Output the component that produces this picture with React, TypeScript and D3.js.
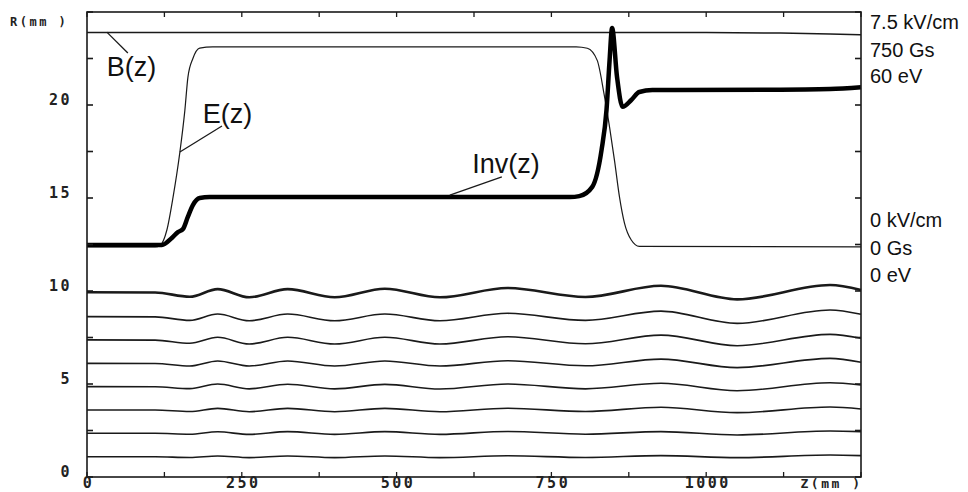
import * as d3 from "d3";

// z positions (mm) and field / invariant profiles in plot units (R scale)
const zB = [0, 1000, 1120, 1200, 1250];
const bVals = [23.9, 23.9, 23.87, 23.82, 23.78];

const zE = [0, 110, 118, 129, 139, 150, 158, 163, 171, 182, 203, 790, 808, 824, 835, 844, 852, 860, 868, 879, 892, 1250];
const eVals = [12.37, 12.37, 12.45, 13.28, 15.05, 17.47, 19.7, 21.5, 22.5, 23.06, 23.13, 23.13, 23.05, 22.4, 20.6, 18.8, 17.0, 15.05, 13.65, 12.74, 12.4, 12.37];

const zInv = [0, 121, 137, 147, 155, 163, 171, 182, 198, 780, 795, 816, 831, 839, 844, 848, 856, 865, 879, 892, 913, 1100, 1200, 1250];
const invVals = [12.47, 12.47, 12.85, 13.17, 13.33, 14.0, 14.62, 15.0, 15.05, 15.05, 15.1, 15.6, 17.58, 19.73, 22.42, 24.14, 21.5, 19.9, 20.27, 20.7, 20.8, 20.82, 20.86, 20.95];

// electron trajectories R(z)
const zTraj = [0, 110, 166, 211, 262, 324, 400, 481, 570, 679, 805, 927, 1050, 1200, 1250];
const traj1 = [9.93, 9.92, 9.69, 10.1, 9.66, 10.1, 9.66, 10.12, 9.66, 10.16, 9.68, 10.28, 9.55, 10.32, 10.05];
const traj2 = [8.62, 8.61, 8.42, 8.76, 8.4, 8.76, 8.4, 8.76, 8.4, 8.8, 8.42, 8.92, 8.26, 8.98, 8.75];
const traj3 = [7.37, 7.36, 7.19, 7.51, 7.15, 7.51, 7.15, 7.51, 7.15, 7.54, 7.16, 7.63, 7.06, 7.67, 7.46];
const traj4 = [6.11, 6.1, 5.97, 6.24, 5.97, 6.24, 5.97, 6.24, 5.97, 6.25, 5.98, 6.34, 5.88, 6.38, 6.17];
const traj5 = [4.86, 4.85, 4.75, 5.0, 4.74, 4.99, 4.74, 4.98, 4.73, 5.0, 4.74, 5.04, 4.64, 5.07, 4.95];
const traj6 = [3.6, 3.6, 3.52, 3.69, 3.51, 3.69, 3.51, 3.69, 3.51, 3.7, 3.52, 3.75, 3.46, 3.76, 3.66];
const traj7 = [2.35, 2.35, 2.3, 2.43, 2.29, 2.44, 2.29, 2.44, 2.29, 2.45, 2.3, 2.44, 2.26, 2.47, 2.44];
const traj8 = [1.09, 1.09, 1.05, 1.13, 1.04, 1.13, 1.04, 1.13, 1.04, 1.14, 1.05, 1.15, 1.04, 1.18, 1.15];
const trajectories = [traj1, traj2, traj3, traj4, traj5, traj6, traj7, traj8];

const xTickLabels = [0, 250, 500, 750, 1000];
const yTickLabels = [0, 5, 10, 15, 20];
const rightLabels = ["7.5 kV/cm", "750 Gs", "60 eV", "0 kV/cm", "0 Gs", "0 eV"];

// curve labels: text anchor and leader line ends (z, R)
const curveLabels = [
  { text: "B(z)", z: 32, r: 21.56, from: [32, 23.92], to: [66, 22.8] },
  { text: "E(z)", z: 187, r: 19.03, from: [150, 17.47], to: [218, 18.87] },
  { text: "Inv(z)", z: 622, r: 16.34, from: [586, 15.16], to: [670, 16.13] },
];

const W = 968;
const H = 492;
const left = 87;
const right = 861;
const top = 12;
const bottom = 477;

const pixFont = "'DejaVu Sans Mono', monospace";
const sansFont = "'Liberation Sans', Arial, sans-serif";

export default function App() {
  const x = d3.scaleLinear().domain([0, 1250]).range([left, right]);
  const y = d3.scaleLinear().domain([0, 25]).range([bottom, top]);

  const line = (zs: number[], vs: number[]) =>
    d3
      .line<number>()
      .x((_, i) => x(zs[i]))
      .y((v) => y(v))
      .curve(d3.curveMonotoneX)(vs) as string;

  const xTicks = d3.range(0, 1251, 125);
  const yTicks = d3.range(0, 25.01, 2.5);

  return (
    <svg
      width={W}
      height={H}
      style={{ position: "absolute", left: 0, top: 0, background: "#fff" }}
    >
      <rect x={0} y={0} width={W} height={H} fill="#fff" />

      {/* trajectories */}
      {trajectories.map((t, i) => (
        <path
          key={i}
          d={line(zTraj, t)}
          fill="none"
          stroke="#1a1a1a"
          strokeWidth={i === 0 ? 2.6 : 1.6}
        />
      ))}

      {/* fields and invariant */}
      <path d={line(zB, bVals)} fill="none" stroke="#1a1a1a" strokeWidth={1.5} />
      <path d={line(zE, eVals)} fill="none" stroke="#1a1a1a" strokeWidth={1.2} />
      <path d={line(zInv, invVals)} fill="none" stroke="#000" strokeWidth={4.5} strokeLinejoin="round" />

      {/* frame */}
      <rect
        x={left}
        y={top}
        width={right - left}
        height={bottom - top}
        fill="none"
        stroke="#1a1a1a"
        strokeWidth={1.6}
      />

      {/* ticks */}
      {xTicks.map((t) => (
        <g key={"xt" + t} stroke="#1a1a1a" strokeWidth={1.3}>
          <line x1={x(t)} x2={x(t)} y1={bottom} y2={bottom - 5} />
          <line x1={x(t)} x2={x(t)} y1={top} y2={top + 5} />
        </g>
      ))}
      {yTicks.map((t) => (
        <g key={"yt" + t} stroke="#1a1a1a" strokeWidth={1.6}>
          <line x1={left} x2={left + 6} y1={y(t)} y2={y(t)} />
          <line x1={right} x2={right - 6} y1={y(t)} y2={y(t)} />
        </g>
      ))}

      {/* axis labels in pixel-ish mono font */}
      <g fontFamily={pixFont} fontWeight="bold" fontSize={15} fill="#222" letterSpacing={2.5}>
        {yTickLabels.map((t) => (
          <text key={"yl" + t} x={72} y={y(t)} textAnchor="end">
            {t}
          </text>
        ))}
        {xTickLabels.map((t) => (
          <text key={"xl" + t} x={x(t) + 1.5} y={488} textAnchor="middle">
            {t}
          </text>
        ))}
        <text x={10} y={26} fontSize={12}>
          R(mm )
        </text>
        <text x={x(1200) + 1.5} y={488} textAnchor="middle" fontSize={13}>
          Z(mm )
        </text>
      </g>

      {/* right side scale labels */}
      <g fontFamily={sansFont} fontSize={20} fill="#111">
        {rightLabels.map((s, i) => (
          <text key={s} x={870} y={[29, 57, 83, 227, 255, 282][i]}>
            {s}
          </text>
        ))}
      </g>

      {/* curve labels with leader lines */}
      {curveLabels.map((c) => (
        <g key={c.text}>
          <line
            x1={x(c.from[0])}
            y1={y(c.from[1])}
            x2={x(c.to[0])}
            y2={y(c.to[1])}
            stroke="#1a1a1a"
            strokeWidth={1.3}
          />
          <text x={x(c.z)} y={y(c.r)} fontFamily={sansFont} fontSize={27} fill="#111">
            {c.text}
          </text>
        </g>
      ))}
    </svg>
  );
}
